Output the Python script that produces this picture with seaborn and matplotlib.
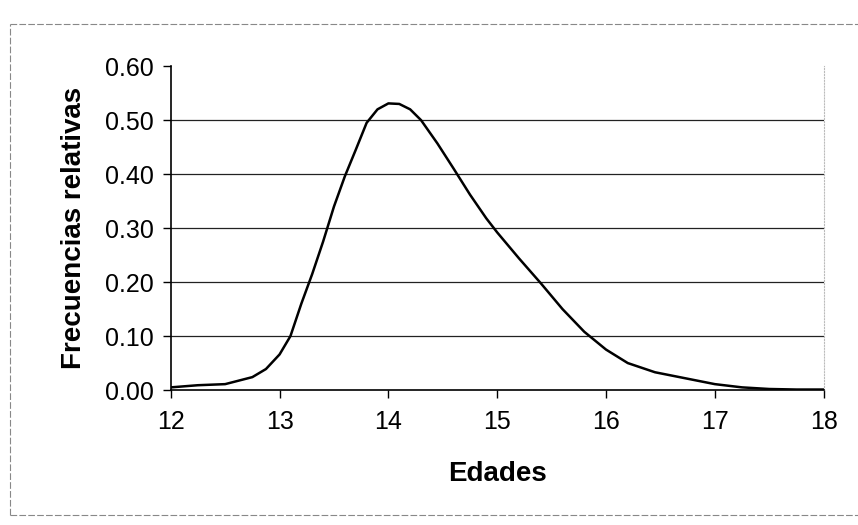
import matplotlib
matplotlib.use('Agg')
import matplotlib.pyplot as plt
from matplotlib.lines import Line2D
import seaborn as sns
import pandas as pd

# Datos (edad, frecuencia relativa)
edades = [12.00, 12.25, 12.50, 12.75, 12.875, 13.00, 13.10, 13.20, 13.30, 13.40,
          13.50, 13.60, 13.70, 13.80, 13.90, 14.00, 14.10, 14.20, 14.30, 14.45,
          14.60, 14.75, 14.90, 15.00, 15.20, 15.40, 15.60, 15.80, 16.00, 16.20,
          16.45, 16.75, 17.00, 17.25, 17.50, 17.75, 18.00]
frecuencias = [0.005, 0.009, 0.011, 0.024, 0.039, 0.066, 0.100, 0.160, 0.215, 0.275,
               0.340, 0.396, 0.445, 0.495, 0.520, 0.531, 0.530, 0.520, 0.500, 0.457,
               0.410, 0.362, 0.318, 0.292, 0.244, 0.198, 0.150, 0.108, 0.075, 0.050,
               0.033, 0.021, 0.011, 0.005, 0.002, 0.001, 0.001]
xticks = [12, 13, 14, 15, 16, 17, 18]
yticks = [0.0, 0.1, 0.2, 0.3, 0.4, 0.5, 0.6]

df = pd.DataFrame({'Edades': edades, 'Frecuencias relativas': frecuencias})

sns.set_style('white')
plt.rcParams['font.family'] = ['Liberation Sans', 'DejaVu Sans']
plt.rcParams['text.color'] = 'black'
plt.rcParams['axes.labelcolor'] = 'black'
plt.rcParams['xtick.color'] = 'black'
plt.rcParams['ytick.color'] = 'black'

fig = plt.figure(figsize=(8.58, 5.25), dpi=100)
ax = fig.add_axes([0.199, 0.257, 0.761, 0.617])

# lineas de division horizontales (sin la de 0.60)
for y in yticks[1:-1]:
    ax.axhline(y, color='#222222', lw=0.9, zorder=1)

sns.lineplot(data=df, x='Edades', y='Frecuencias relativas', color='black',
             lw=1.8, ax=ax, zorder=3, solid_joinstyle='round')

ax.set_xlim(12, 18)
ax.set_ylim(0, 0.6)
ax.set_xticks(xticks)
ax.set_xticklabels([str(t) for t in xticks])
ax.set_yticks(yticks)
ax.set_yticklabels([f'{t:.2f}' for t in yticks])

ax.tick_params(axis='both', which='major', direction='out', length=6, width=1,
               color='black', labelsize=18, bottom=True, left=True)
ax.tick_params(axis='x', pad=8)
ax.tick_params(axis='y', pad=6)

ax.set_xlabel('Edades', fontsize=20, fontweight='bold', labelpad=20)
ax.set_ylabel('Frecuencias relativas', fontsize=20, fontweight='bold', labelpad=13)

for s in ['left', 'bottom']:
    ax.spines[s].set_color('black')
    ax.spines[s].set_linewidth(1.2)
ax.spines['top'].set_visible(False)
ax.spines['right'].set_color('#bbbbbb')
ax.spines['right'].set_linestyle(':')
ax.spines['right'].set_linewidth(0.8)

# marco del area del grafico (arriba, izquierda, abajo)
estilo = dict(color='#888888', lw=0.8, ls=(0, (6, 2)), transform=fig.transFigure)
fig.lines.append(Line2D([0.012, 1.0], [0.955, 0.955], **estilo))
fig.lines.append(Line2D([0.012, 0.012], [0.02, 0.955], **estilo))
fig.lines.append(Line2D([0.012, 1.0], [0.02, 0.02], **estilo))

fig.savefig('out.png', dpi=100)
